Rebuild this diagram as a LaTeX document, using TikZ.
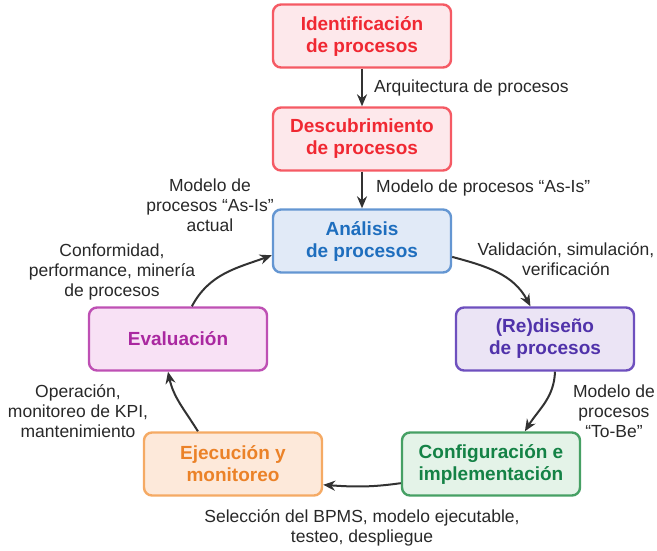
\documentclass[tikz,border=0pt]{standalone}
\usepackage{fontspec}
\setmainfont{Liberation Sans}
\usetikzlibrary{arrows.meta}
\definecolor{rojoborde}{RGB}{245, 90, 100}
\definecolor{rojofondo}{RGB}{253, 232, 235}
\definecolor{rojotexto}{RGB}{240, 40, 50}
\definecolor{azulborde}{RGB}{100, 150, 210}
\definecolor{azulfondo}{RGB}{225, 234, 247}
\definecolor{azultexto}{RGB}{30, 110, 190}
\definecolor{moradoborde}{RGB}{110, 80, 190}
\definecolor{moradofondo}{RGB}{235, 228, 245}
\definecolor{moradotexto}{RGB}{80, 50, 170}
\definecolor{verdeborde}{RGB}{70, 160, 100}
\definecolor{verdefondo}{RGB}{228, 243, 232}
\definecolor{verdetexto}{RGB}{20, 130, 70}
\definecolor{naranjaborde}{RGB}{245, 170, 100}
\definecolor{naranjafondo}{RGB}{253, 233, 218}
\definecolor{naranjatexto}{RGB}{235, 130, 40}
\definecolor{magentaborde}{RGB}{190, 80, 180}
\definecolor{magentafondo}{RGB}{248, 225, 245}
\definecolor{magentatexto}{RGB}{170, 40, 160}
\definecolor{flecha}{RGB}{50, 50, 50}
\definecolor{etiqueta}{RGB}{40, 40, 40}

\begin{document}
\begin{tikzpicture}[x=1pt, y=-1pt,
            fase/.style={draw, rounded corners=8pt, line width=2.4pt, minimum width=178pt, minimum height=63pt,
                         align=center, font=\fontsize{19}{22}\selectfont\bfseries},
            nota/.style={align=center, text=etiqueta, font=\fontsize{17.5}{20}\selectfont, inner sep=0pt},
            paso/.style={draw=flecha, line width=2pt, -{Stealth[length=12pt, width=10pt]}}]
            \useasboundingbox (0, 0) rectangle (657, 550);
            % fases del ciclo
            \node[fase, draw=rojoborde,    fill=rojofondo,    text=rojotexto]    (identificacion) at (362,  36) {Identificación\\de procesos};
            \node[fase, draw=rojoborde,    fill=rojofondo,    text=rojotexto]    (descubrimiento) at (362, 139) {Descubrimiento\\de procesos};
            \node[fase, draw=azulborde,    fill=azulfondo,    text=azultexto]    (analisis)       at (362, 241) {Análisis\\de procesos};
            \node[fase, draw=moradoborde,  fill=moradofondo,  text=moradotexto]  (rediseno)       at (545, 339) {(Re)diseño\\de procesos};
            \node[fase, draw=verdeborde,   fill=verdefondo,   text=verdetexto]   (configuracion)  at (491, 464) {Configuración e\\implementación};
            \node[fase, draw=naranjaborde, fill=naranjafondo, text=naranjatexto] (ejecucion)      at (233, 464) {Ejecución y\\monitoreo};
            \node[fase, draw=magentaborde, fill=magentafondo, text=magentatexto] (evaluacion)     at (178, 339) {Evaluación};
            % flechas
            \draw[paso] (identificacion) -- (descubrimiento);
            \draw[paso] (descubrimiento) -- (analisis);
            \draw[paso] (analisis.-10)       to[out=-15, in=118] (rediseno.114);
            \draw[paso] (rediseno.-73)       to[out=-92, in=58]  (configuracion.44);
            \draw[paso] (configuracion.192)  to[out=188, in=-4]  (ejecucion.-13);
            \draw[paso] (ejecucion.137)      to[out=122, in=-78] (evaluacion.-107);
            \draw[paso] (evaluacion.67)      to[out=62, in=200]  (analisis.189);
            % etiquetas
            \node[nota, anchor=west] (arquitectura) at (374,  88) {Arquitectura de procesos};
            \node[nota, anchor=west] (asis)         at (376, 188) {Modelo de procesos “As-Is”};
            \node[nota] (asisactual)  at (210, 205) {Modelo de\\procesos “As-Is”\\actual};
            \node[nota] (validacion)  at (566, 259) {Validación, simulación,\\verificación};
            \node[nota] (tobe)        at (614, 411) {Modelo de\\procesos\\“To-Be”};
            \node[nota] (seleccion)   at (362, 528) {Selección del BPMS, modelo ejecutable,\\testeo, despliegue};
            \node[nota] (operacion)   at ( 78, 411) {Operación,\\monitoreo de KPI,\\mantenimiento};
            \node[nota] (conformidad) at (112, 272) {Conformidad,\\performance, minería\\de procesos};
        \end{tikzpicture}
\end{document}
